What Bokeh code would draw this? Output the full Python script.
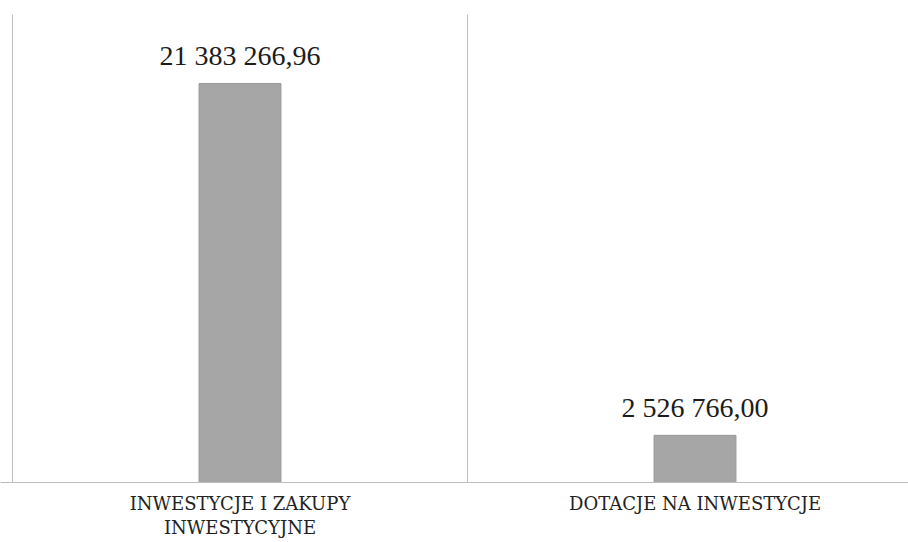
from bokeh.plotting import figure
from bokeh.models import Range1d, FixedTicker, ColumnDataSource
from bokeh.core.properties import value
from bokeh.embed import file_html
from bokeh.resources import INLINE

categories = ["INWESTYCJE I ZAKUPY\nINWESTYCYJNE", "DOTACJE NA INWESTYCJE"]
values = [21383266.96, 2526766.00]
value_labels = ["21 383 266,96", "2 526 766,00"]

xs = [i + 0.5 for i in range(len(categories))]
src = ColumnDataSource(dict(x=xs, top=values, label=value_labels))

W, H = 908, 542
p = figure(width=W, height=H, output_backend="svg", toolbar_location=None,
           x_range=Range1d(-12 / 455, 896 / 455), y_range=Range1d(0, 25080000),
           min_border_left=0, min_border_right=0, min_border_top=14,
           min_border_bottom=60, background_fill_color="white",
           border_fill_color="white")
p.outline_line_color = None

p.vbar(x="x", top="top", bottom=0, width=0.18, source=src,
       fill_color="#a6a6a6", line_color="#999999", line_width=1)

p.text(x="x", y="top", text="label", source=src, text_align="center",
       text_baseline="bottom", y_offset=-12,
       text_font=value("Liberation Serif"), text_font_size="28px",
       text_color="#1c1c1c")

p.xaxis.ticker = FixedTicker(ticks=xs)
p.xaxis.major_label_overrides = {x: c for x, c in zip(xs, categories)}
p.xaxis.axis_line_color = "#bcbcbc"
p.xaxis.major_tick_line_color = None
p.xaxis.minor_tick_line_color = None
p.xaxis.major_tick_out = 0
p.xaxis.major_tick_in = 0
p.xaxis.major_label_standoff = 10
p.xaxis.major_label_text_font = "DejaVu Serif"
p.xaxis.major_label_text_font_size = "18px"
p.xaxis.major_label_text_line_height = 1.15
p.xaxis.major_label_text_color = "#222222"

p.yaxis.visible = False
p.ygrid.grid_line_color = None
p.xgrid.ticker = FixedTicker(ticks=[0, 1, 2])
p.xgrid.grid_line_color = "#bdbdbd"

open("out.html", "w").write(file_html(p, INLINE))
